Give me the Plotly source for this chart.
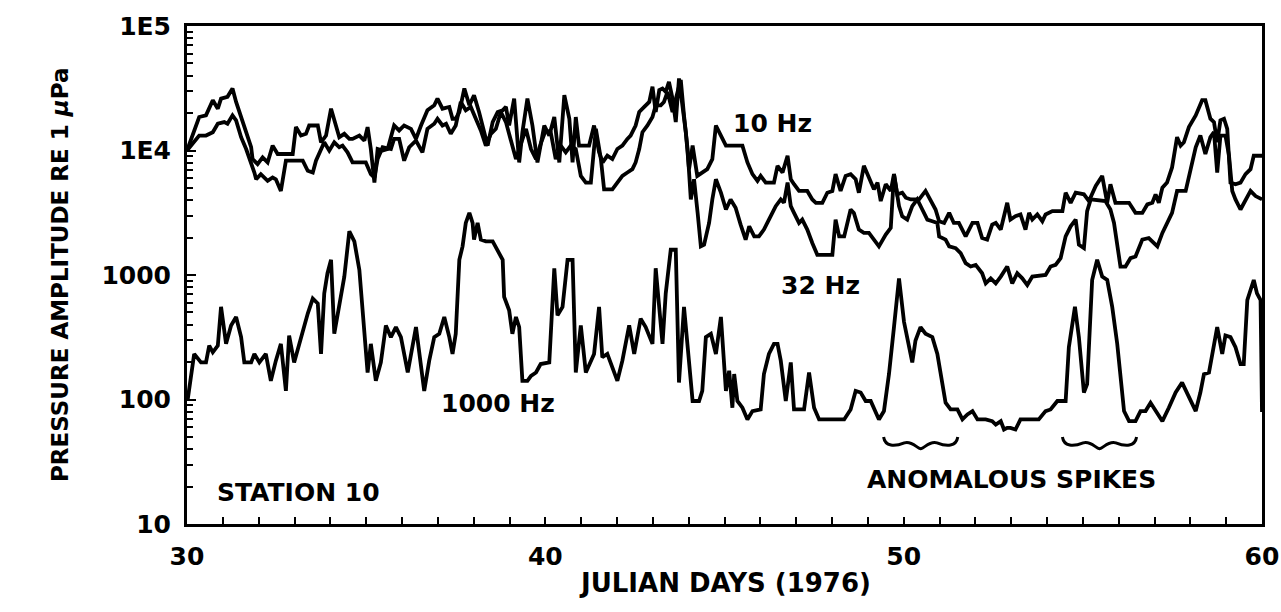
import numpy as np
import plotly.graph_objects as go

# ---------------- data ----------------
# Julian day and log10 of pressure amplitude (re 1 uPa)
day_10hz = [30.00, 30.34, 30.53, 30.72, 30.86, 30.95, 31.13, 31.27, 31.37, 31.51, 31.65, 31.79, 31.83, 31.97, 32.11,
            32.25, 32.39, 32.53, 32.95, 33.04, 33.18, 33.32, 33.41, 33.65, 33.74, 33.88, 34.02, 34.16, 34.25, 34.39,
            34.53, 34.62, 34.81, 34.95, 35.04, 35.13, 35.23, 35.32, 35.46, 35.60, 35.78, 35.92, 36.06, 36.25, 36.39,
            36.53, 36.71, 36.90, 36.99, 37.13, 37.32, 37.41,
            37.50, 37.60, 37.74, 37.88, 38.01, 38.15, 38.29, 38.39, 38.53, 38.67, 38.81, 38.90, 38.99, 39.13, 39.27,
            39.36, 39.50, 39.64, 39.78, 39.97, 40.11, 40.25, 40.39, 40.53, 40.67, 40.76, 40.85, 40.94, 41.22, 41.36,
            41.50, 41.60, 41.73, 41.87, 42.01, 42.15, 42.29, 42.38, 42.52, 42.62, 42.76, 42.90, 42.99, 43.08, 43.18,
            43.27, 43.36, 43.45, 43.55, 43.64, 43.73, 43.83, 43.92, 44.01, 44.11, 44.24, 44.38, 44.52, 44.66, 44.76,
            44.90, 45.04,
            45.13, 45.50, 45.64, 45.78, 45.92, 46.01, 46.15, 46.38, 46.48, 46.62, 46.76, 46.85, 46.94, 47.08, 47.31,
            47.45, 47.55, 47.73, 47.87, 48.01, 48.10, 48.24, 48.38, 48.52, 48.66, 48.75, 48.89, 49.03, 49.17, 49.27,
            49.36, 49.50, 49.64, 49.73, 49.82, 49.96, 50.06, 50.20, 50.43, 50.61, 50.75, 50.89, 50.99, 51.13, 51.27,
            51.40, 51.54, 51.73, 51.92, 52.06, 52.19, 52.33, 52.47,
            52.57, 52.71, 52.80, 52.89, 52.98, 53.12, 53.26, 53.40, 53.50, 53.59, 53.73, 53.87, 53.96, 54.15, 54.43,
            54.52, 54.66, 54.80, 55.03, 55.17, 55.36, 55.54, 55.68, 55.77, 55.91, 56.29, 56.47, 56.66, 56.80, 56.94,
            57.03, 57.12, 57.22, 57.35, 57.49, 57.63, 57.73, 57.82, 57.96, 58.15, 58.33, 58.42, 58.56, 58.66, 58.75,
            58.84, 58.94, 59.03, 59.12, 59.26, 59.40, 59.54, 59.68, 59.77, 59.96, 60.00]
log_amp_10hz = [4.000, 4.269, 4.282, 4.404, 4.336, 4.417, 4.431, 4.498, 4.390, 4.269, 4.161, 4.026, 3.931, 3.891, 3.945,
                3.904, 4.039, 3.972, 3.972, 4.188, 4.120, 4.134, 4.201, 4.201, 4.066, 4.120, 4.336, 4.201, 4.107, 4.134,
                4.093, 4.093, 4.120, 4.080, 4.188, 4.012, 3.742, 4.012, 3.999, 4.012, 4.201, 4.161, 4.201, 4.174, 4.093,
                4.201, 4.323, 4.363, 4.417, 4.336, 4.350, 4.255,
                4.255, 4.309, 4.498, 4.363, 4.444, 4.309, 4.161, 4.039, 4.228, 4.309, 4.323, 4.350, 4.201, 4.417, 3.904,
                4.147, 4.417, 4.201, 3.904, 4.201, 4.120, 4.269, 3.904, 4.444, 4.255, 3.904, 4.269, 4.039, 4.039, 4.201,
                3.985, 3.904, 3.958, 3.931, 4.012, 4.039, 4.093, 4.120, 4.201, 4.309, 4.350, 4.390, 4.512, 4.309, 4.485,
                4.498, 4.471, 4.552, 4.417, 4.228, 4.579, 4.336, 4.147, 3.850, 4.039, 3.796, 3.823, 3.850, 3.931, 4.201,
                4.120, 4.039,
                4.039, 4.039, 3.904, 3.810, 3.756, 3.796, 3.742, 3.742, 3.877, 3.823, 3.958, 3.769, 3.729, 3.675, 3.675,
                3.607, 3.580, 3.580, 3.661, 3.675, 3.810, 3.675, 3.796, 3.810, 3.769, 3.661, 3.877, 3.783, 3.688, 3.742,
                3.594, 3.729, 3.675, 3.810, 3.648, 3.661, 3.621, 3.607, 3.607, 3.675, 3.607, 3.526, 3.432, 3.418, 3.499,
                3.418, 3.418, 3.310, 3.418, 3.418, 3.297, 3.284, 3.405,
                3.418, 3.365, 3.472, 3.580, 3.445, 3.472, 3.486, 3.365, 3.499, 3.445, 3.486, 3.432, 3.486, 3.513, 3.513,
                3.661, 3.580, 3.661, 3.648, 3.594, 3.715, 3.796, 3.580, 3.729, 3.580, 3.580, 3.499, 3.499, 3.567, 3.580,
                3.648, 3.580, 3.702, 3.742, 3.864, 4.107, 4.039, 4.066, 4.188, 4.282, 4.404, 4.404, 4.255, 4.228, 4.066,
                4.242, 4.255, 4.174, 3.742, 3.729, 3.742, 3.810, 3.850, 3.958, 3.958, 3.958]

day_32hz = [30.00, 30.34, 30.53, 30.72, 30.86, 31.04, 31.13, 31.27, 31.37, 31.51, 31.65, 31.79, 31.88, 31.93, 32.06,
            32.25, 32.39, 32.48, 32.62, 32.76, 33.23, 33.37, 33.51, 33.60, 33.74, 33.83, 33.97, 34.11, 34.25, 34.34,
            34.48, 34.62, 34.99, 35.13, 35.23, 35.32, 35.46, 35.69, 35.78, 35.92, 36.06, 36.20, 36.39, 36.57, 36.71,
            36.90, 36.99, 37.13, 37.23, 37.36,
            37.50, 37.64, 37.78, 37.92, 38.06, 38.20, 38.34, 38.48, 38.62, 38.76, 38.90, 39.04, 39.18, 39.27, 39.46,
            39.60, 39.74, 39.87, 40.01, 40.15, 40.29, 40.43, 40.57, 40.71, 40.85, 40.99, 41.13, 41.27, 41.41, 41.55,
            41.64, 41.87, 42.01, 42.15, 42.29, 42.43, 42.52, 42.62, 42.71, 42.85, 42.99, 43.08, 43.22, 43.31, 43.41,
            43.55, 43.69, 43.78, 43.87, 43.97, 44.06, 44.15, 44.25, 44.34, 44.43, 44.57, 44.66, 44.76, 44.90, 45.04,
            45.17, 45.31, 45.45, 45.59, 45.69, 45.83, 45.96, 46.10, 46.24, 46.43, 46.57, 46.66, 46.76, 46.85, 46.94,
            47.08, 47.17, 47.31, 47.45, 47.59, 48.01, 48.10, 48.20, 48.34, 48.52, 48.61, 48.75, 48.89, 49.03, 49.17,
            49.31, 49.50, 49.64, 49.73, 49.87, 49.96, 50.10, 50.24, 50.38, 50.52, 50.66, 50.80, 50.94, 50.99, 51.17,
            51.27, 51.45, 51.59, 51.73, 51.87, 52.01, 52.19, 52.29, 52.43, 52.57,
            52.71, 52.89, 53.03, 53.17, 53.31, 53.45, 53.59, 53.96, 54.10, 54.24, 54.38, 54.52, 54.66, 54.80, 54.89,
            55.03, 55.12, 55.22, 55.63, 55.77, 55.87, 55.96, 56.05, 56.19, 56.33, 56.47, 56.66, 56.84, 56.98, 57.08,
            57.22, 57.35, 57.49, 57.63, 57.87, 58.01, 58.15, 58.28, 58.42, 58.56, 58.66, 58.75, 58.84, 58.98, 59.08,
            59.17, 59.26, 59.40, 59.54, 59.68, 59.82, 59.96, 60.00]
log_amp_32hz = [4.000, 4.120, 4.120, 4.147, 4.215, 4.228, 4.215, 4.282, 4.242, 4.107, 4.012, 3.904, 3.823, 3.769, 3.810,
                3.756, 3.783, 3.769, 3.675, 3.918, 3.918, 3.837, 3.823, 3.918, 4.012, 4.066, 3.999, 4.066, 4.026, 4.039,
                3.985, 3.904, 3.904, 3.810, 3.783, 3.931, 4.026, 4.012, 4.093, 4.093, 3.918, 4.026, 4.080, 3.985, 4.174,
                4.215, 4.255, 4.201, 4.215, 4.134,
                4.201, 4.390, 4.323, 4.350, 4.255, 4.161, 4.039, 4.134, 4.174, 4.309, 4.228, 4.066, 3.931, 4.012, 4.174,
                4.012, 3.931, 4.053, 4.161, 4.147, 3.931, 4.039, 3.985, 4.039, 4.012, 3.796, 3.742, 3.742, 4.174, 3.931,
                3.688, 3.688, 3.742, 3.796, 3.823, 3.850, 3.904, 4.012, 4.147, 4.201, 4.269, 4.363, 4.363, 4.390, 4.471,
                4.309, 4.471, 4.566, 4.282, 4.012, 3.607, 3.769, 3.499, 3.230, 3.243, 3.418, 3.607, 3.769, 3.661, 3.526,
                3.607, 3.540, 3.405, 3.284, 3.391, 3.310, 3.310, 3.365, 3.445, 3.553, 3.607, 3.580, 3.742, 3.553, 3.499,
                3.418, 3.445, 3.365, 3.257, 3.162, 3.162, 3.445, 3.310, 3.310, 3.526, 3.499, 3.365, 3.338, 3.338, 3.284,
                3.230, 3.324, 3.378, 3.810, 3.553, 3.472, 3.445, 3.553, 3.607, 3.526, 3.445, 3.432, 3.418, 3.310, 3.284,
                3.230, 3.216, 3.176, 3.095, 3.068, 3.081, 3.014, 2.933, 2.973, 2.933,
                2.987, 3.068, 2.933, 3.014, 2.973, 2.919, 2.987, 3.000, 3.068, 3.081, 3.135, 3.310, 3.391, 3.445, 3.243,
                3.216, 3.513, 3.607, 3.594, 3.526, 3.418, 3.230, 3.068, 3.068, 3.135, 3.149, 3.284, 3.297, 3.257, 3.230,
                3.338, 3.418, 3.499, 3.675, 3.675, 3.850, 4.026, 4.120, 3.972, 4.107, 4.147, 3.823, 4.120, 4.120, 3.958,
                3.675, 3.607, 3.526, 3.607, 3.675, 3.634, 3.607, 3.607]

day_1000hz = [30.02, 30.20, 30.39, 30.53, 30.62, 30.72, 30.86, 30.95, 31.09, 31.23, 31.37, 31.51, 31.60, 31.79, 31.88,
              32.02, 32.20, 32.34, 32.48, 32.62, 32.76, 32.85, 32.99, 33.18, 33.37, 33.51, 33.65, 33.74, 33.83, 33.92,
              34.02, 34.11, 34.25, 34.39, 34.53, 34.67, 34.81, 34.95, 35.04, 35.13, 35.27, 35.41, 35.55, 35.69, 35.83,
              35.97, 36.16, 36.39, 36.48, 36.62, 36.76, 36.90, 37.04, 37.18, 37.32, 37.41,
              37.50, 37.60, 37.69, 37.78, 37.88, 37.97, 38.01, 38.11, 38.20, 38.34, 38.53, 38.67, 38.81, 38.85, 38.99,
              39.08, 39.18, 39.27, 39.36, 39.50, 39.60, 39.74, 39.87, 40.11, 40.25, 40.34, 40.48, 40.62, 40.76, 40.85,
              40.99, 41.13, 41.36, 41.50, 41.59, 41.73, 41.87, 42.01, 42.15, 42.34, 42.48, 42.66, 42.80, 42.99, 43.08,
              43.18, 43.27, 43.36, 43.50, 43.64, 43.73, 43.87, 44.01, 44.11, 44.29, 44.38, 44.48, 44.62, 44.76, 44.90,
              45.04,
              45.13, 45.22, 45.27, 45.36, 45.50, 45.64, 45.78, 46.01, 46.10, 46.24, 46.38, 46.48, 46.57, 46.71, 46.85,
              46.94, 47.22, 47.36, 47.50, 47.64, 48.34, 48.52, 48.66, 48.80, 48.94, 49.08, 49.22, 49.31, 49.45, 49.59,
              49.73, 49.87, 50.01, 50.15, 50.24, 50.33, 50.47, 50.61, 50.80, 50.94, 51.03, 51.17, 51.31, 51.50, 51.64,
              51.78, 51.92, 52.06, 52.29, 52.47,
              52.57, 52.71, 52.80, 52.89, 52.98, 53.12, 53.26, 53.77, 53.96, 54.10, 54.29, 54.52, 54.61, 54.78, 54.89,
              55.03, 55.12, 55.26, 55.40, 55.54, 55.68, 55.82, 55.96, 56.05, 56.15, 56.29, 56.47, 56.61, 56.75, 56.89,
              57.03, 57.22, 57.40, 57.59, 57.77, 57.96, 58.15, 58.28, 58.38, 58.52, 58.66, 58.75, 58.89, 58.98, 59.12,
              59.26, 59.40, 59.49, 59.59, 59.68, 59.77, 59.86, 59.96, 60.00]
log_amp_1000hz = [2.000, 2.366, 2.298, 2.298, 2.433, 2.379, 2.433, 2.744, 2.447, 2.595, 2.663, 2.501, 2.298, 2.298, 2.366,
                  2.298, 2.366, 2.150, 2.312, 2.447, 2.069, 2.514, 2.298, 2.501, 2.690, 2.811, 2.771, 2.366, 2.852, 3.014,
                  3.122, 2.528, 2.771, 2.987, 3.351, 3.270, 3.041, 2.474, 2.217, 2.447, 2.150, 2.298, 2.595, 2.501, 2.582,
                  2.501, 2.217, 2.582, 2.393, 2.069, 2.312, 2.501, 2.528, 2.663, 2.501, 2.366,
                  2.528, 3.122, 3.230, 3.418, 3.499, 3.418, 3.284, 3.418, 3.284, 3.270, 3.270, 3.203, 3.122, 2.825, 2.717,
                  2.528, 2.663, 2.582, 2.150, 2.150, 2.190, 2.217, 2.285, 2.298, 3.054, 2.676, 2.744, 3.122, 3.122, 2.217,
                  2.595, 2.217, 2.366, 2.744, 2.339, 2.366, 2.258, 2.150, 2.312, 2.595, 2.366, 2.649, 2.582, 2.447, 3.054,
                  2.744, 2.447, 2.852, 3.203, 3.203, 2.136, 2.744, 2.312, 1.988, 1.988, 2.069, 2.501, 2.528, 2.366, 2.663,
                  2.069,
                  2.231, 1.934, 2.204, 1.988, 1.934, 1.840, 1.907, 1.920, 2.204, 2.366, 2.447, 2.447, 2.312, 1.988, 2.298,
                  1.920, 1.920, 2.217, 1.934, 1.840, 1.840, 1.920, 2.069, 2.056, 1.988, 1.988, 1.907, 1.840, 1.907, 2.204,
                  2.582, 2.973, 2.622, 2.420, 2.298, 2.474, 2.582, 2.528, 2.501, 2.366, 2.204, 1.974, 1.920, 1.920, 1.840,
                  1.880, 1.907, 1.840, 1.840, 1.826,
                  1.799, 1.826, 1.759, 1.772, 1.772, 1.759, 1.840, 1.840, 1.907, 1.920, 1.988, 1.988, 2.420, 2.744, 2.501,
                  2.056, 2.123, 2.960, 3.122, 2.987, 2.960, 2.744, 2.447, 2.150, 1.907, 1.826, 1.826, 1.907, 1.907, 1.974,
                  1.907, 1.826, 1.934, 2.056, 2.136, 2.028, 1.907, 2.056, 2.204, 2.217, 2.460, 2.582, 2.366, 2.514, 2.501,
                  2.420, 2.285, 2.285, 2.798, 2.879, 2.960, 2.852, 2.798, 1.900]

y_tick_vals = [10, 100, 1000, 1e4, 1e5]
y_tick_text = ["10", "100", "1000", "1E4", "1E5"]
x_tick_vals = [30, 40, 50, 60]
x_tick_text = ["30", "40", "50", "60"]

# ---------------- figure ----------------
FONT = "DejaVu Sans"
fig = go.Figure()
line_style = dict(color="black", width=3.8)
for name, d, lg in [("10 Hz", day_10hz, log_amp_10hz),
                    ("32 Hz", day_32hz, log_amp_32hz),
                    ("1000 Hz", day_1000hz, log_amp_1000hz)]:
    fig.add_trace(go.Scatter(x=d, y=np.power(10.0, np.array(lg)), mode="lines",
                             line=line_style, name=name, showlegend=False,
                             hoverinfo="skip"))

tickfont = dict(family=FONT, size=25, color="black", weight="bold")
fig.update_xaxes(range=[30, 60], tickvals=x_tick_vals, ticktext=x_tick_text,
                 ticks="inside", ticklen=7, tickwidth=2, tickcolor="black",
                 minor=dict(dtick=1, ticks="inside", ticklen=7, tickwidth=2, tickcolor="black"),
                 showline=True, linewidth=3, linecolor="black", mirror=True,
                 showgrid=False, zeroline=False, tickfont=tickfont,
                 ticklabelstandoff=8, automargin=False)
fig.update_yaxes(type="log", range=[1, 5], tickvals=y_tick_vals, ticktext=y_tick_text,
                 ticks="inside", ticklen=9, tickwidth=2, tickcolor="black",
                 minor=dict(ticks="inside", ticklen=6, tickwidth=2, tickcolor="black", dtick="D1"),
                 showline=True, linewidth=3, linecolor="black", mirror=True,
                 showgrid=False, zeroline=False, tickfont=tickfont,
                 ticklabelstandoff=8, automargin=False)

ann_font = dict(family=FONT, size=25, color="black", weight="bold")
annotations = [
    dict(text="10 Hz", x=46.33, y=4.215, xref="x", yref="y", showarrow=False, font=ann_font),
    dict(text="32 Hz", x=47.67, y=2.919, xref="x", yref="y", showarrow=False, font=ann_font),
    dict(text="1000 Hz", x=38.68, y=1.964, xref="x", yref="y", showarrow=False, font=ann_font),
    dict(text="STATION 10", x=30.78, y=1.251, xref="x", yref="y", xanchor="left",
         showarrow=False, font=ann_font),
    dict(text="ANOMALOUS SPIKES", x=53.01, y=1.356, xref="x", yref="y", showarrow=False, font=ann_font),
    dict(text="JULIAN DAYS (1976)", x=0.5, y=-0.153, xref="paper", yref="paper",
         showarrow=False, font=dict(family=FONT, size=26, color="black", weight="bold")),
    dict(text="PRESSURE AMPLITUDE RE 1 <i>\u03bc</i>Pa", x=-0.132, y=0.5, xref="paper", yref="paper",
         textangle=-90, showarrow=False, font=dict(family=FONT, size=23, color="black", weight="bold")),
]

# curly braces under the anomalous spikes
brace_spans = [(49.44, 51.51), (54.43, 56.50)]
shapes = []
for x0, x1 in brace_spans:
    w = x1 - x0
    xm = (x0 + x1) / 2
    yt, yh, yb, ym = 0.1747, 0.155, 0.163, 0.151
    path = (f"M {x0},{yt} "
            f"C {x0 + 0.02*w},{yh} {x0 + 0.15*w},{yh} {x0 + 0.28*w},{yb} "
            f"C {x0 + 0.38*w},0.168 {x0 + 0.45*w},0.152 {xm},{ym} "
            f"C {x1 - 0.45*w},0.152 {x1 - 0.38*w},0.168 {x1 - 0.28*w},{yb} "
            f"C {x1 - 0.15*w},{yh} {x1 - 0.02*w},{yh} {x1},{yt}")
    shapes.append(dict(type="path", path=path, xref="x", yref="paper",
                       line=dict(color="black", width=3)))

fig.update_layout(width=1281, height=612, margin=dict(l=187, r=19, t=26, b=88, autoexpand=False),
                  plot_bgcolor="white", paper_bgcolor="white", showlegend=False,
                  annotations=annotations, shapes=shapes)

fig.write_html("out.html")
